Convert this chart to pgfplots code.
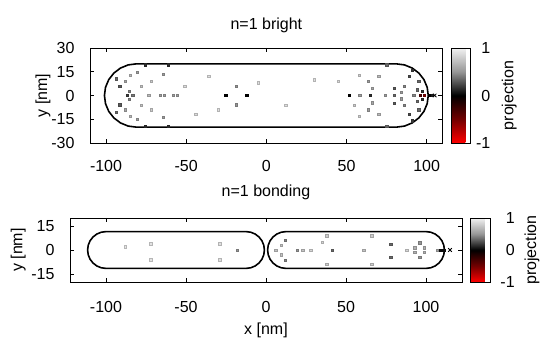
\documentclass[border=0pt]{standalone}
\usepackage{fontspec}
\setmainfont{Liberation Sans}
\usepackage{pgfplots}
\pgfplotsset{compat=1.18}
\pgfplotsset{
  colormap={proj}{rgb255=(255,0,0) rgb255=(115,0,0) rgb255=(0,0,0) rgb255=(150,150,150) rgb255=(242,242,242)},
  myax/.style={
    scale only axis, anchor=south west,
    /pgf/number format/assume math mode=true,
    xtick={-100,-50,0,50,100},
    axis line style={line width=0.6pt},
    tick style={line width=0.5pt, black},
    every y tick label/.append style={xshift=-10pt},
    every axis title/.style={at={(0.5,1)}, anchor=south, yshift=10pt},
    every axis x label/.style={at={(axis description cs:0.5,0)}, anchor=center, yshift=-48pt},
    colormap name=proj, point meta min=-1, point meta max=1,
    colorbar,
    colorbar style={
      at={(parent axis.north east)}, anchor=north west,
      scale only axis, width=19pt,
      /pgf/number format/assume math mode=true,
      ytick={-1,0,1}, xtick=\empty, major tick length=0pt,
      ylabel={projection},
      every axis y label/.style={at={(axis description cs:3.12,0.5)}, rotate=90, anchor=center},
    },
  },
  rod/.style={black, line width=1.6pt, line join=round},
  dots/.style={scatter, only marks, mark=square*, mark size=1.15pt, scatter src=explicit},
}
\pgfplotstableread{
x y v
-87 0 0.2
-83.4 0 0.4
-73.4 0 0.7
-66 0 0.55
-63.5 0 0.55
-58 0 0.55
-55.5 0 0.55
-25.4 0 0.0
-12.3 0 0.0
-18.8 5.8 0.5
-18.8 -5.8 0.5
-75.4 19.4 0.15
-75.4 -19.4 0.15
-61.3 19.4 0.15
-61.3 -19.4 0.15
-80.7 14.8 0.55
-80.7 -14.8 0.55
-64.4 13.5 0.55
-64.4 -13.5 0.55
-93.6 10.6 0.35
-93.6 -10.6 0.35
-91.5 5.8 0.3
-91.5 -5.8 0.3
-88 9 0.6
-88 -9 0.6
-85 13 0.7
-85 -13 0.7
-78 6 0.75
-78 -6 0.75
-72 9 0.8
-72 -9 0.8
-85.5 2.5 0.45
-85.5 -2.5 0.45
-44 -12 0.88
-51 6 0.88
-36 12 0.9
-30 -9 0.9
-5 8 0.9
12 -6 0.9
30 10 0.9
51.6 0 0.0
58.3 0 0.55
64.8 0 0.15
74 0 0.55
79.8 0 0.35
63.5 8.9 0.55
63.5 -8.9 0.55
66 4.6 0.6
66 -4.6 0.6
79.8 4.8 0.3
79.8 -4.8 0.3
89 12 0.25
89 -12 0.25
91 16 0.2
91 -16 0.2
92 0 0.45
94.3 3.6 0.35
94.3 -3.6 0.35
96 0 -0.35
98.5 0 -0.55
97 2.5 0.15
97 -2.5 0.15
101.6 0 0.0
103.5 0 0.1
86 6 0.45
86 -6 0.45
84 2 0.55
84 -2 0.55
75 19.5 0.35
75 -19.5 0.35
70 12 0.7
70 -12 0.7
55 -6 0.8
45 9 0.88
58 13 0.82
58 -13 0.82
95 9 0.35
95 -9 0.35
}\topdots
\pgfplotstableread{
x y v
-18.2 0 0.5
-29 4 0.9
-29 -6 0.9
-72 4 0.92
-72 -6 0.92
-88 2 0.93
12 6.2 0.45
12 -6.2 0.45
9.5 3 0.75
9.5 -3 0.75
6 0 0.75
19.3 0 0.5
23 0 0.75
28 0 0.85
41.2 0 0.35
38 9 0.8
38 -9 0.8
35 5 0.85
61 0 0.75
66 9 0.8
66 -9 0.8
78 3.7 0.35
78 -4.4 0.35
88 0 0.85
93 1.5 0.65
93 -1.5 0.65
96 4.5 0.5
96 -4.5 0.5
99 1.5 0.65
99 -1.5 0.65
106.8 0 0.6
109 0 0.05
111 0 0.05
}\botdots
\begin{document}
\fontsize{16}{19}\selectfont
\begin{tikzpicture}[x=1pt,y=1pt]
\path[use as bounding box] (0,0) rectangle (541,343);
\begin{axis}[myax, at={(90pt,200pt)}, width=352.7pt, height=95pt,
  xmin=-110, xmax=110, ymin=-30, ymax=30, ytick={-30,-15,0,15,30},
  every x tick label/.append style={yshift=-12pt},
  title={n=1 bright}, ylabel={y [nm]},
  colorbar style={width=18.6pt, every y tick label/.style={anchor=east, xshift=26pt}},
  every axis y label/.style={at={(axis description cs:-0.1333,0.5)}, rotate=90, anchor=center}]
\addplot[dots] table[x=x, y=y, meta=v] {\topdots};
\addplot[rod] coordinates {(-81,20) (81,20) (86.18,19.32) (91,17.32) (95.14,14.14) (98.32,10) (100.32,5.18) (101,0) (100.32,-5.18) (98.32,-10) (95.14,-14.14) (91,-17.32) (86.18,-19.32) (81,-20) (-81,-20) (-86.18,-19.32) (-91,-17.32) (-95.14,-14.14) (-98.32,-10) (-100.32,-5.18) (-101,0) (-100.32,5.18) (-98.32,10) (-95.14,14.14) (-91,17.32) (-86.18,19.32) (-81,20)};
\addplot[only marks, mark=x, black, mark size=2.5pt, thick] coordinates {(105,0)};
\end{axis}
\begin{axis}[myax, at={(70pt,61pt)}, width=392pt, height=64pt,
  xmin=-122.5, xmax=122.5, ymin=-20, ymax=20, ytick={-15,0,15},
  every x tick label/.append style={yshift=-14pt},
  title={n=1 bonding}, xlabel={x [nm]}, ylabel={y [nm]},
  colorbar style={width=19.7pt, every y tick label/.style={anchor=east, xshift=30pt}},
  every axis title/.style={at={(0.5,1)}, anchor=south, yshift=13pt},
  every axis y label/.style={at={(axis description cs:-0.1319,0.5)}, rotate=90, anchor=center}]
\addplot[dots] table[x=x, y=y, meta=v] {\botdots};
\addplot[rod] coordinates {(-100,11.5) (-12.5,11.5) (-9.52,11.11) (-6.75,9.96) (-4.37,8.13) (-2.54,5.75) (-1.39,2.98) (-1,0) (-1.39,-2.98) (-2.54,-5.75) (-4.37,-8.13) (-6.75,-9.96) (-9.52,-11.11) (-12.5,-11.5) (-100,-11.5) (-102.98,-11.11) (-105.75,-9.96) (-108.13,-8.13) (-109.96,-5.75) (-111.11,-2.98) (-111.5,0) (-111.11,2.98) (-109.96,5.75) (-108.13,8.13) (-105.75,9.96) (-102.98,11.11) (-100,11.5)};
\addplot[rod] coordinates {(100,11.5) (12.5,11.5) (9.52,11.11) (6.75,9.96) (4.37,8.13) (2.54,5.75) (1.39,2.98) (1,0) (1.39,-2.98) (2.54,-5.75) (4.37,-8.13) (6.75,-9.96) (9.52,-11.11) (12.5,-11.5) (100,-11.5) (102.98,-11.11) (105.75,-9.96) (108.13,-8.13) (109.96,-5.75) (111.11,-2.98) (111.5,0) (111.11,2.98) (109.96,5.75) (108.13,8.13) (105.75,9.96) (102.98,11.11) (100,11.5)};
\addplot[only marks, mark=x, black, mark size=2.5pt, thick] coordinates {(115,0)};
\end{axis}
\end{tikzpicture}
\end{document}
